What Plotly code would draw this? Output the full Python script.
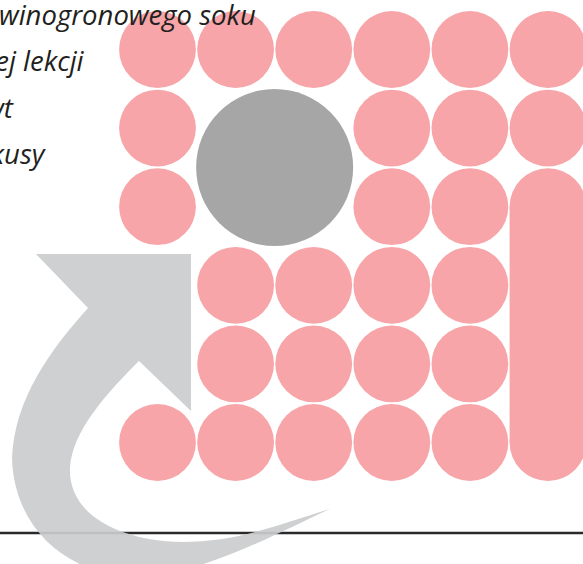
import plotly.graph_objects as go

# ---- data ----
# grid of the 6x6 tile pattern: P = pink dot, G = big grey dot (2x2), B = pink capsule column, . = empty
grid = [
    "PPPPPP",
    "PGGPPP",
    "PGGPPB",
    ".PPPPB",
    ".PPPPB",
    "PPPPPB",
]
text_lines = ["szklanka winogronowego soku", "po ostatniej lekcji", "owocowy deser wt", "zdrowe przekusy"]
text_right_px = [258, 87, 16, 48]

# ---- layout constants ----
W, H = 583, 564
X0, Y0 = 157.5, 49.5      # centre of first cell (px)
DX, DY = 78.1, 78.6       # cell pitch
R = 38.4                  # dot radius
PINK = "#f7a5a8"
GREY = "#a6a6a6"
ARROW = "#cbcccd"
FS = 27.5

shapes = []

# baseline rule
shapes.append(dict(type="line", x0=0, x1=W, y0=533, y1=533,
                   line=dict(color="#2b2a2a", width=2.6), layer="above"))

# arrow
arrow_path = ("M 36,254 L 191,254 L 191,411 L 139,361 "
              "C 110,390 72,430 70,468 "
              "C 68,515 120,541 182,542 "
              "C 240,542 285,522 330,509 "
              "C 280,532 220,565 150,578 "
              "C 70,580 14,530 12,458 "
              "C 14,400 50,350 88,308 Z")
shapes.append(dict(type="path", path=arrow_path, fillcolor=ARROW,
                   line=dict(width=0), layer="above", opacity=0.92))

grey_done = False
for r, row in enumerate(grid):
    for c, ch in enumerate(row):
        cx, cy = X0 + c * DX, Y0 + r * DY
        if ch == "P":
            shapes.append(dict(type="circle", x0=cx - R, x1=cx + R, y0=cy - R, y1=cy + R,
                               fillcolor=PINK, line=dict(width=0), layer="below"))
        elif ch == "G" and not grey_done:
            grey_done = True
            gx, gy = cx + DX / 2, cy + DY / 2
            GR = 78.5
            shapes.append(dict(type="circle", x0=gx - GR, x1=gx + GR, y0=gy - GR, y1=gy + GR,
                               fillcolor=GREY, line=dict(width=0), layer="below"))

# capsule column
bcells = [(r, row.index("B")) for r, row in enumerate(grid) if "B" in row]
c = bcells[0][1]
cx = X0 + c * DX
ytop = Y0 + bcells[0][0] * DY
ybot = Y0 + bcells[-1][0] * DY
shapes.append(dict(type="rect", x0=cx - R, x1=cx + R, y0=ytop, y1=ybot,
                   fillcolor=PINK, line=dict(width=0), layer="below"))
for yy in (ytop, ybot):
    shapes.append(dict(type="circle", x0=cx - R, x1=cx + R, y0=yy - R, y1=yy + R,
                       fillcolor=PINK, line=dict(width=0), layer="below"))

annotations = []
baselines = [24, 70, 117, 163]
for t, xr, yb in zip(text_lines, text_right_px, baselines):
    annotations.append(dict(x=xr, y=yb + 11, xref="x", yref="y", text="<i>" + t + "</i>",
                            showarrow=False, xanchor="right", yanchor="bottom",
                            font=dict(family="Open Sans", size=FS, color="#231f20")))

fig = go.Figure(go.Scatter(x=[None], y=[None], showlegend=False))
fig.update_layout(width=W, height=H, margin=dict(l=0, r=0, t=0, b=0),
                  plot_bgcolor="white", paper_bgcolor="white",
                  shapes=shapes, annotations=annotations,
                  xaxis=dict(range=[0, W], visible=False, fixedrange=True),
                  yaxis=dict(range=[H, 0], visible=False, fixedrange=True),
                  showlegend=False)
fig.write_html("out.html", config={"displayModeBar": False},
               post_script="document.body.style.margin='0';document.body.style.overflow='hidden';")
